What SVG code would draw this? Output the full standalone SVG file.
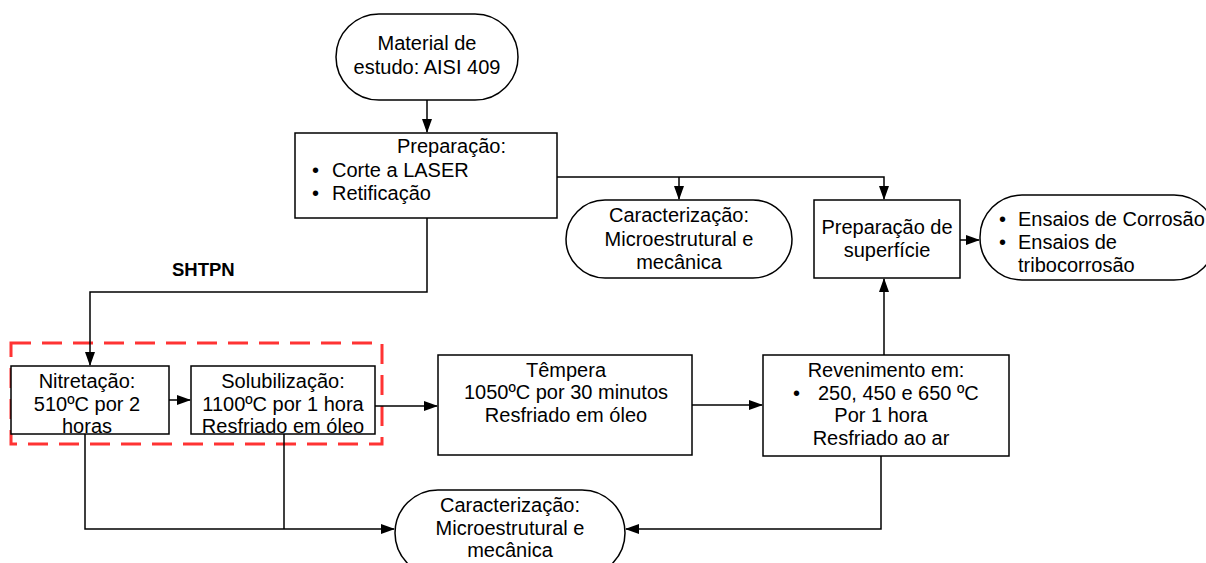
<svg xmlns="http://www.w3.org/2000/svg" width="1206" height="563" viewBox="0 0 1206 563">
<defs>
<marker id="ah" markerWidth="14" markerHeight="10" refX="13" refY="5" orient="auto" markerUnits="userSpaceOnUse">
<path d="M0,0 L14,5 L0,10 Z" fill="#000"/>
</marker>
<style>
.b{fill:#fff;stroke:#000;stroke-width:1.5}
.t{font-family:"Liberation Sans",Arial,sans-serif;font-size:20px;fill:#000}
.m{text-anchor:middle}
.c{fill:none;stroke:#000;stroke-width:1.5}
</style>
</defs>
<rect width="1206" height="563" fill="#fff"/>
<g id="material">
<rect class="b" x="336" y="14" width="182" height="86" rx="43"/>
<text class="t m" x="427" y="50">Material de</text>
<text class="t m" x="427" y="74">estudo: AISI 409</text>
</g>
<g id="preparacao">
<rect class="b" x="295" y="133" width="262" height="85"/>
<text class="t" x="397" y="153">Preparação:</text>
<text class="t" x="312" y="177">•</text><text class="t" x="332" y="177">Corte a LASER</text>
<text class="t" x="312" y="200">•</text><text class="t" x="332" y="200">Retificação</text>
</g>
<g id="caracterizacao1">
<rect class="b" x="566" y="200" width="226" height="78" rx="39"/>
<text class="t m" x="679" y="222">Caracterização:</text>
<text class="t m" x="679" y="246">Microestrutural e</text>
<text class="t m" x="679" y="269">mecânica</text>
</g>
<g id="prepsuperficie">
<rect class="b" x="814" y="200" width="146" height="78"/>
<text class="t m" x="887" y="234">Preparação de</text>
<text class="t m" x="887" y="257">superfície</text>
</g>
<g id="ensaios">
<rect class="b" x="980" y="195" width="236" height="85" rx="42"/>
<text class="t" x="999" y="226">•</text><text class="t" x="1018" y="226">Ensaios de Corrosão</text>
<text class="t" x="999" y="249">•</text><text class="t" x="1018" y="249">Ensaios de</text>
<text class="t" x="1018" y="272">tribocorrosão</text>
</g>
<g id="shtpn">
<text class="t" x="172" y="276" style="font-weight:bold;font-size:18.5px">SHTPN</text>
<rect x="11" y="343" width="371" height="101" fill="none" stroke="#ff3333" stroke-width="3" stroke-dasharray="20,11"/>
</g>
<g id="nitretacao">
<rect class="b" x="11" y="366" width="158" height="68"/>
<text class="t m" x="87" y="388">Nitretação:</text>
<text class="t m" x="87" y="411">510ºC por 2</text>
<text class="t m" x="87" y="433">horas</text>
</g>
<g id="solubilizacao">
<rect class="b" x="191" y="366" width="184" height="68"/>
<text class="t m" x="283" y="388">Solubilização:</text>
<text class="t m" x="283" y="411">1100ºC por 1 hora</text>
<text class="t m" x="283" y="433">Resfriado em óleo</text>
</g>
<g id="tempera">
<rect class="b" x="438" y="355" width="254" height="100"/>
<text class="t m" x="566" y="377">Têmpera</text>
<text class="t m" x="566" y="399">1050ºC por 30 minutos</text>
<text class="t m" x="566" y="422">Resfriado em óleo</text>
</g>
<g id="revenimento">
<rect class="b" x="763" y="355" width="246" height="101"/>
<text class="t m" x="886" y="377">Revenimento em:</text>
<text class="t" x="793" y="400">•</text><text class="t" x="818" y="400">250, 450 e 650 ºC</text>
<text class="t m" x="881" y="422">Por 1 hora</text>
<text class="t m" x="881" y="445">Resfriado ao ar</text>
</g>
<g id="caracterizacao2">
<rect class="b" x="395" y="490" width="230" height="86" rx="43"/>
<text class="t m" x="510" y="512">Caracterização:</text>
<text class="t m" x="510" y="535">Microestrutural e</text>
<text class="t m" x="510" y="557">mecânica</text>
</g>
<g id="connectors">
<path class="c" d="M427,100 V132" marker-end="url(#ah)"/>
<path class="c" d="M557,177 H884 V199" marker-end="url(#ah)"/>
<path class="c" d="M679,177 V199" marker-end="url(#ah)"/>
<path class="c" d="M960,240 H979" marker-end="url(#ah)"/>
<path class="c" d="M427,218 V292 H90 V365" marker-end="url(#ah)"/>
<path class="c" d="M169,400 H190" marker-end="url(#ah)"/>
<path class="c" d="M375,406 H437" marker-end="url(#ah)"/>
<path class="c" d="M692,405 H762" marker-end="url(#ah)"/>
<path class="c" d="M884,355 V279" marker-end="url(#ah)"/>
<path class="c" d="M881,456 V529 H626" marker-end="url(#ah)"/>
<path class="c" d="M85,434 V529 H394" marker-end="url(#ah)"/>
<path class="c" d="M284,434 V529"/>
</g>
</svg>
